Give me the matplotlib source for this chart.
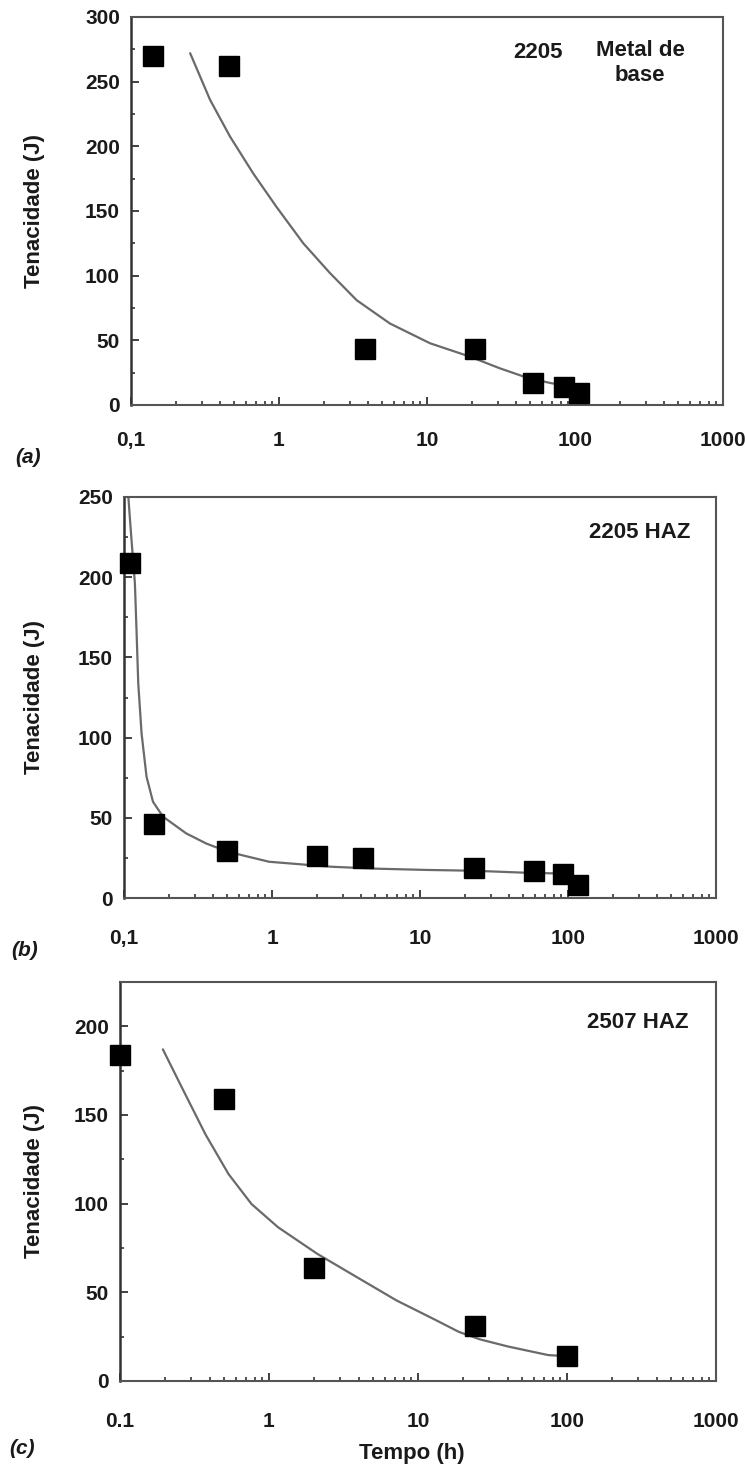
import matplotlib
matplotlib.use("Agg")
import matplotlib.pyplot as plt
from matplotlib.ticker import LogLocator, FixedLocator, MultipleLocator, NullFormatter

# ---------------- data ----------------
# panel (a) 2205 Metal de base
xa_pts = [0.14, 0.46, 3.8, 21, 52, 84, 106]
ya_pts = [270, 262, 43, 43, 17, 14, 9]
xa_fit = [0.251, 0.342, 0.467, 0.67, 0.964, 1.46, 2.21, 3.35, 5.62, 10.5, 19.5, 31, 45, 65, 84]
ya_fit = [272, 236, 207.5, 179, 153, 125, 102, 81, 63, 47.7, 37.4, 28.4, 22, 17.5, 15]

# panel (b) 2205 HAZ
xb_pts = [0.11, 0.16, 0.50, 2.0, 4.1, 23, 59, 93, 117]
yb_pts = [209, 46, 29, 26, 25, 19, 17, 15, 8]
xb_fit = [0.107, 0.112, 0.1185, 0.1217, 0.1248, 0.1314, 0.142, 0.157, 0.1835, 0.263, 0.359,
          0.5, 0.955, 1.77, 2.5, 5, 11, 23, 50, 94]
yb_fit = [250, 225, 196, 165, 134, 102.7, 75.6, 60, 50.7, 40.3, 34,
          28.9, 22.6, 20.6, 19.5, 18.3, 17.5, 17.0, 15.8, 15.2]

# panel (c) 2507 HAZ
xc_pts = [0.1, 0.5, 2.0, 24, 100]
yc_pts = [184, 159, 64, 31, 14]
xc_fit = [0.194, 0.262, 0.375, 0.535, 0.763, 1.15, 2.11, 3.88, 7.15, 13.2, 18.8, 26, 40, 55, 75, 100]
yc_fit = [187, 165, 139, 116.7, 99.8, 86.7, 71.7, 58.6, 45.5, 34.3, 27.7, 23.5, 19.5, 17, 14.6, 14]

xticks = [0.1, 1, 10, 100, 1000]
xlabels_comma = ["0,1", "1", "10", "100", "1000"]
xlabels_dot = ["0.1", "1", "10", "100", "1000"]

# ---------------- figure ----------------
W, H = 745, 1467
fig = plt.figure(figsize=(W / 100, H / 100), dpi=100)
FONT = ["Liberation Sans", "DejaVu Sans"]
plt.rcParams["font.family"] = FONT
TXT = "#1a1a1a"


def px_axes(left, right, top, bottom):
    return fig.add_axes([left / W, 1 - bottom / H, (right - left) / W, (bottom - top) / H])


panels = [
    dict(box=(131, 723, 17, 405), xp=xa_pts, yp=ya_pts, xf=xa_fit, yf=ya_fit,
         ymax=300, yt=range(0, 301, 50), xl=xlabels_comma, pad=19, lab="(a)", labpos=(28, 458)),
    dict(box=(124, 716, 497, 898), xp=xb_pts, yp=yb_pts, xf=xb_fit, yf=yb_fit,
         ymax=250, yt=range(0, 251, 50), xl=xlabels_comma, pad=22, lab="(b)", labpos=(25, 950)),
    dict(box=(120, 716, 982, 1381), xp=xc_pts, yp=yc_pts, xf=xc_fit, yf=yc_fit,
         ymax=225, yt=range(0, 201, 50), xl=xlabels_dot, pad=22, lab="(c)", labpos=(22, 1448)),
]

axes = []
for p in panels:
    ax = px_axes(*p["box"])
    axes.append(ax)
    ax.set_xscale("log")
    ax.set_xlim(0.1, 1000)
    ax.set_ylim(0, p["ymax"])
    ax.plot(p["xf"], p["yf"], color="#6a6a6a", lw=1.6, zorder=2,
            solid_joinstyle="round", solid_capstyle="round")
    ax.plot(p["xp"], p["yp"], ls="none", marker="s", ms=15, color="black",
            zorder=3, clip_on=False)
    ax.xaxis.set_major_locator(FixedLocator(xticks))
    ax.set_xticklabels(p["xl"])
    ax.xaxis.set_minor_locator(LogLocator(base=10, subs=range(2, 10), numticks=20))
    ax.xaxis.set_minor_formatter(NullFormatter())
    ax.yaxis.set_major_locator(FixedLocator(list(p["yt"])))
    ax.yaxis.set_minor_locator(MultipleLocator(25))
    ax.tick_params(which="both", direction="in", top=False, right=False, colors="#333333")
    ax.tick_params(which="major", length=6, width=1.3)
    ax.tick_params(which="minor", length=3, width=1.2)
    ax.tick_params(axis="x", which="major", pad=p["pad"])
    ax.tick_params(axis="y", which="major", pad=8)
    for lbl in ax.get_xticklabels() + ax.get_yticklabels():
        lbl.set_fontsize(15)
        lbl.set_fontweight("bold")
        lbl.set_color(TXT)
    for side in ["top", "right", "bottom"]:
        ax.spines[side].set_color("#555555")
        ax.spines[side].set_linewidth(1.5)
    ax.spines["left"].set_color("#333333")
    ax.spines["left"].set_linewidth(1.8)
    l, r, t, b = p["box"]
    fig.text(35 / W, 1 - (t + b) / 2 / H, "Tenacidade (J)", rotation=90,
             ha="center", va="center", fontsize=16, fontweight="bold", color=TXT)
    fig.text(p["labpos"][0] / W, 1 - p["labpos"][1] / H, p["lab"], ha="center", va="center",
             fontsize=15, fontweight="bold", style="italic", color=TXT)

# annotations
fig.text(538 / W, 1 - 53 / H, "2205", ha="center", va="center",
         fontsize=16, fontweight="bold", color=TXT)
fig.text(640 / W, 1 - 63 / H, "Metal de\nbase", ha="center", va="center",
         fontsize=16, fontweight="bold", color=TXT, linespacing=1.2)
fig.text(640 / W, 1 - 533 / H, "2205 HAZ", ha="center", va="center",
         fontsize=16, fontweight="bold", color=TXT)
fig.text(638 / W, 1 - 1023 / H, "2507 HAZ", ha="center", va="center",
         fontsize=16, fontweight="bold", color=TXT)
fig.text(412 / W, 1 - 1453 / H, "Tempo (h)", ha="center", va="center",
         fontsize=16, fontweight="bold", color=TXT)

fig.savefig("out.png", dpi=100, facecolor="white")
